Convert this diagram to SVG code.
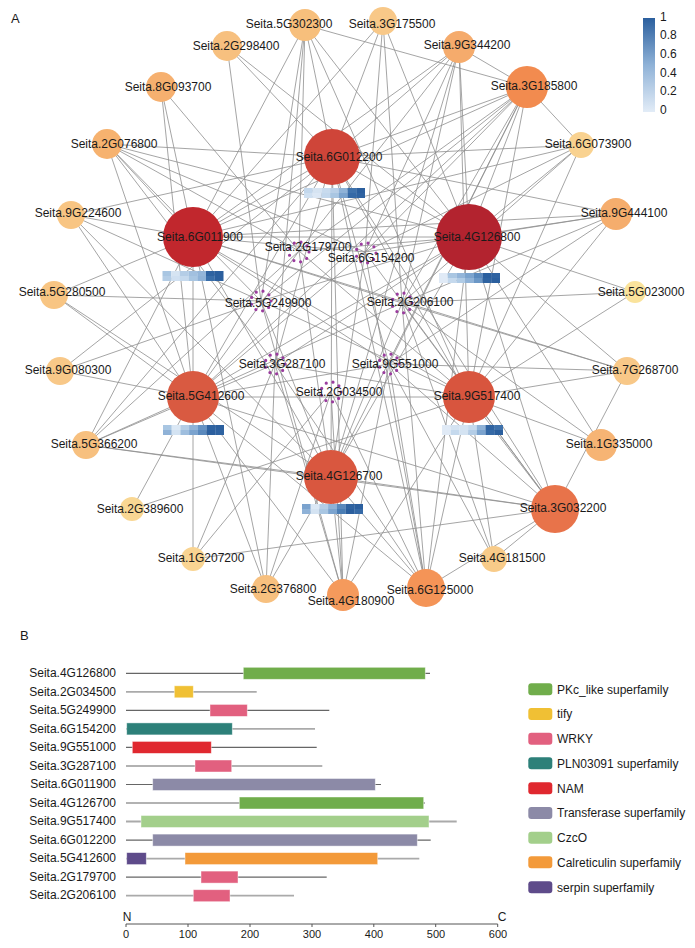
<svg xmlns="http://www.w3.org/2000/svg" width="695" height="948" viewBox="0 0 695 948">
<defs>
<linearGradient id="cbar" x1="0" y1="0" x2="0" y2="1">
<stop offset="0" stop-color="#2b5f9e"/>
<stop offset="0.5" stop-color="#8fb2d7"/>
<stop offset="1" stop-color="#e2ecf7"/>
</linearGradient>
<style>
text{font-family:"Liberation Sans",Arial,sans-serif;fill:#1a1a1a}
.lb{font-size:12px;text-anchor:middle}
.ed line{stroke:#8e8e8e;stroke-width:0.8}
.ring{fill:none;stroke:#9a3c9e;stroke-width:3.2;stroke-dasharray:0 6.98;stroke-linecap:round}
.cb{font-size:12px}
.rl{font-size:12px;text-anchor:end}
.ax{font-size:11px;text-anchor:middle}
.lg{font-size:12px}
.dk{stroke:#666;stroke-width:1.2}
.lt{stroke:#aaa;stroke-width:1.8}
.bar{stroke:#ffffff;stroke-opacity:0.55;stroke-width:0.8}
</style>
</defs>
<rect width="695" height="948" fill="#fff"/>
<text x="11" y="23" style="font-size:13px">A</text>

<g id="edges" class="ed">
<line x1="305" y1="25" x2="193" y2="237"/><line x1="305" y1="25" x2="332" y2="157"/><line x1="305" y1="25" x2="469" y2="237"/><line x1="305" y1="25" x2="299" y2="251"/><line x1="305" y1="25" x2="261" y2="301"/><line x1="305" y1="25" x2="275" y2="364"/><line x1="305" y1="25" x2="469" y2="397"/><line x1="305" y1="25" x2="527" y2="87"/>
<line x1="383" y1="21" x2="332" y2="157"/><line x1="383" y1="21" x2="193" y2="237"/><line x1="383" y1="21" x2="365" y2="252"/><line x1="383" y1="21" x2="469" y2="237"/><line x1="383" y1="21" x2="402" y2="303"/>
<line x1="227" y1="46" x2="332" y2="157"/><line x1="227" y1="46" x2="261" y2="301"/><line x1="227" y1="46" x2="469" y2="237"/>
<line x1="459" y1="47" x2="332" y2="157"/><line x1="459" y1="47" x2="193" y2="237"/><line x1="459" y1="47" x2="469" y2="237"/><line x1="459" y1="47" x2="299" y2="251"/><line x1="459" y1="47" x2="365" y2="252"/><line x1="459" y1="47" x2="402" y2="303"/><line x1="459" y1="47" x2="469" y2="397"/><line x1="459" y1="47" x2="331" y2="477"/><line x1="459" y1="47" x2="527" y2="87"/>
<line x1="161" y1="87" x2="193" y2="237"/><line x1="161" y1="87" x2="299" y2="251"/><line x1="161" y1="87" x2="193" y2="397"/>
<line x1="527" y1="87" x2="332" y2="157"/><line x1="527" y1="87" x2="193" y2="237"/><line x1="527" y1="87" x2="469" y2="237"/><line x1="527" y1="87" x2="193" y2="397"/><line x1="527" y1="87" x2="469" y2="397"/><line x1="527" y1="87" x2="331" y2="477"/><line x1="527" y1="87" x2="299" y2="251"/><line x1="527" y1="87" x2="365" y2="252"/><line x1="527" y1="87" x2="261" y2="301"/><line x1="527" y1="87" x2="402" y2="303"/><line x1="527" y1="87" x2="389" y2="364"/><line x1="527" y1="87" x2="581" y2="145"/>
<line x1="107" y1="144" x2="332" y2="157"/><line x1="107" y1="144" x2="193" y2="237"/><line x1="107" y1="144" x2="469" y2="237"/><line x1="107" y1="144" x2="299" y2="251"/><line x1="107" y1="144" x2="365" y2="252"/><line x1="107" y1="144" x2="261" y2="301"/><line x1="107" y1="144" x2="275" y2="364"/><line x1="107" y1="144" x2="193" y2="397"/>
<line x1="581" y1="145" x2="332" y2="157"/><line x1="581" y1="145" x2="193" y2="237"/><line x1="581" y1="145" x2="469" y2="237"/><line x1="581" y1="145" x2="365" y2="252"/><line x1="581" y1="145" x2="402" y2="303"/><line x1="581" y1="145" x2="469" y2="397"/>
<line x1="71" y1="215" x2="332" y2="157"/><line x1="71" y1="215" x2="193" y2="237"/><line x1="71" y1="215" x2="193" y2="397"/><line x1="71" y1="215" x2="261" y2="301"/><line x1="71" y1="215" x2="331" y2="477"/>
<line x1="616" y1="214" x2="332" y2="157"/><line x1="616" y1="214" x2="193" y2="237"/><line x1="616" y1="214" x2="469" y2="237"/><line x1="616" y1="214" x2="365" y2="252"/><line x1="616" y1="214" x2="402" y2="303"/><line x1="616" y1="214" x2="469" y2="397"/><line x1="616" y1="214" x2="389" y2="364"/>
<line x1="54" y1="295" x2="193" y2="237"/><line x1="54" y1="295" x2="193" y2="397"/><line x1="54" y1="295" x2="331" y2="477"/><line x1="54" y1="295" x2="261" y2="301"/>
<line x1="635" y1="292" x2="469" y2="237"/><line x1="635" y1="292" x2="402" y2="303"/><line x1="635" y1="292" x2="469" y2="397"/>
<line x1="60" y1="371" x2="332" y2="157"/><line x1="60" y1="371" x2="193" y2="397"/><line x1="60" y1="371" x2="261" y2="301"/>
<line x1="627" y1="371" x2="193" y2="237"/><line x1="627" y1="371" x2="469" y2="237"/><line x1="627" y1="371" x2="469" y2="397"/><line x1="627" y1="371" x2="402" y2="303"/><line x1="627" y1="371" x2="389" y2="364"/>
<line x1="86" y1="445" x2="332" y2="157"/><line x1="86" y1="445" x2="193" y2="237"/><line x1="86" y1="445" x2="193" y2="397"/><line x1="86" y1="445" x2="331" y2="477"/><line x1="86" y1="445" x2="275" y2="364"/><line x1="86" y1="445" x2="299" y2="251"/><line x1="86" y1="445" x2="555" y2="509"/>
<line x1="601" y1="445" x2="469" y2="237"/><line x1="601" y1="445" x2="469" y2="397"/><line x1="601" y1="445" x2="402" y2="303"/>
<line x1="132" y1="509" x2="193" y2="397"/><line x1="132" y1="509" x2="469" y2="397"/>
<line x1="555" y1="509" x2="332" y2="157"/><line x1="555" y1="509" x2="469" y2="237"/><line x1="555" y1="509" x2="193" y2="397"/><line x1="555" y1="509" x2="469" y2="397"/><line x1="555" y1="509" x2="331" y2="477"/><line x1="555" y1="509" x2="365" y2="252"/><line x1="555" y1="509" x2="402" y2="303"/><line x1="555" y1="509" x2="389" y2="364"/><line x1="555" y1="509" x2="627" y2="371"/><line x1="555" y1="509" x2="494" y2="559"/><line x1="555" y1="509" x2="426" y2="588"/>
<line x1="193" y1="559" x2="193" y2="237"/><line x1="193" y1="559" x2="275" y2="364"/><line x1="193" y1="559" x2="331" y2="392"/><line x1="193" y1="559" x2="555" y2="509"/>
<line x1="494" y1="559" x2="469" y2="397"/><line x1="494" y1="559" x2="402" y2="303"/><line x1="494" y1="559" x2="389" y2="364"/>
<line x1="266" y1="589" x2="193" y2="237"/><line x1="266" y1="589" x2="193" y2="397"/><line x1="266" y1="589" x2="331" y2="477"/><line x1="266" y1="589" x2="275" y2="364"/><line x1="266" y1="589" x2="331" y2="392"/>
<line x1="426" y1="588" x2="332" y2="157"/><line x1="426" y1="588" x2="469" y2="237"/><line x1="426" y1="588" x2="193" y2="397"/><line x1="426" y1="588" x2="469" y2="397"/><line x1="426" y1="588" x2="331" y2="477"/><line x1="426" y1="588" x2="365" y2="252"/><line x1="426" y1="588" x2="402" y2="303"/><line x1="426" y1="588" x2="275" y2="364"/><line x1="426" y1="588" x2="389" y2="364"/><line x1="426" y1="588" x2="331" y2="392"/>
<line x1="343" y1="595" x2="332" y2="157"/><line x1="343" y1="595" x2="193" y2="397"/><line x1="343" y1="595" x2="469" y2="397"/><line x1="343" y1="595" x2="331" y2="477"/><line x1="343" y1="595" x2="261" y2="301"/><line x1="343" y1="595" x2="275" y2="364"/><line x1="343" y1="595" x2="389" y2="364"/><line x1="343" y1="595" x2="331" y2="392"/>
<line x1="193" y1="237" x2="469" y2="237"/><line x1="332" y1="157" x2="331" y2="477"/><line x1="193" y1="397" x2="469" y2="397"/><line x1="193" y1="237" x2="469" y2="397"/><line x1="469" y1="237" x2="193" y2="397"/><line x1="332" y1="157" x2="193" y2="397"/><line x1="332" y1="157" x2="469" y2="397"/><line x1="193" y1="237" x2="331" y2="477"/><line x1="469" y1="237" x2="331" y2="477"/><line x1="332" y1="157" x2="193" y2="237"/><line x1="332" y1="157" x2="469" y2="237"/>
<line x1="332" y1="157" x2="275" y2="364"/><line x1="332" y1="157" x2="389" y2="364"/><line x1="193" y1="237" x2="365" y2="252"/><line x1="193" y1="237" x2="402" y2="303"/><line x1="193" y1="237" x2="389" y2="364"/><line x1="469" y1="237" x2="299" y2="251"/><line x1="469" y1="237" x2="261" y2="301"/><line x1="469" y1="237" x2="275" y2="364"/><line x1="193" y1="397" x2="299" y2="251"/><line x1="193" y1="397" x2="365" y2="252"/><line x1="193" y1="397" x2="402" y2="303"/><line x1="193" y1="397" x2="389" y2="364"/><line x1="469" y1="397" x2="299" y2="251"/><line x1="469" y1="397" x2="261" y2="301"/><line x1="469" y1="397" x2="275" y2="364"/><line x1="331" y1="477" x2="299" y2="251"/><line x1="331" y1="477" x2="365" y2="252"/><line x1="331" y1="477" x2="261" y2="301"/><line x1="331" y1="477" x2="402" y2="303"/>
</g>

<g id="n-5G302300"><circle cx="305" cy="25" r="16" fill="#f7bf7c"/><text class="lb" x="289" y="28">Seita.5G302300</text></g>
<g id="n-3G175500"><circle cx="383" cy="21" r="14" fill="#f8c888"/><text class="lb" x="392" y="28">Seita.3G175500</text></g>
<g id="n-2G298400"><circle cx="227" cy="46" r="15" fill="#f7c07f"/><text class="lb" x="236" y="50">Seita.2G298400</text></g>
<g id="n-9G344200"><circle cx="459" cy="47" r="16" fill="#f5ab6c"/><text class="lb" x="467" y="49">Seita.9G344200</text></g>
<g id="n-8G093700"><circle cx="161" cy="87" r="15" fill="#f6b06f"/><text class="lb" x="168" y="91">Seita.8G093700</text></g>
<g id="n-3G185800"><circle cx="527" cy="87" r="21" fill="#f28b4f"/><text class="lb" x="534" y="90">Seita.3G185800</text></g>
<g id="n-2G076800"><circle cx="107" cy="144" r="15" fill="#f6b26f"/><text class="lb" x="114" y="148">Seita.2G076800</text></g>
<g id="n-6G073900"><circle cx="581" cy="145" r="13" fill="#f9d290"/><text class="lb" x="588" y="148">Seita.6G073900</text></g>
<g id="n-9G224600"><circle cx="71" cy="215" r="14" fill="#f8c583"/><text class="lb" x="78" y="217">Seita.9G224600</text></g>
<g id="n-9G444100"><circle cx="616" cy="214" r="16" fill="#f5ad6d"/><text class="lb" x="624" y="217">Seita.9G444100</text></g>
<g id="n-5G280500"><circle cx="54" cy="295" r="14" fill="#f8c583"/><text class="lb" x="62" y="296">Seita.5G280500</text></g>
<g id="n-5G023000"><circle cx="635" cy="292" r="11" fill="#fae39c"/><text class="lb" x="641" y="296">Seita.5G023000</text></g>
<g id="n-9G080300"><circle cx="60" cy="371" r="14" fill="#f8c888"/><text class="lb" x="68" y="374">Seita.9G080300</text></g>
<g id="n-7G268700"><circle cx="627" cy="371" r="14" fill="#f8c888"/><text class="lb" x="635" y="374">Seita.7G268700</text></g>
<g id="n-5G366200"><circle cx="86" cy="445" r="14" fill="#f7c07f"/><text class="lb" x="94" y="448">Seita.5G366200</text></g>
<g id="n-1G335000"><circle cx="601" cy="445" r="16" fill="#f6b474"/><text class="lb" x="609" y="448">Seita.1G335000</text></g>
<g id="n-2G389600"><circle cx="132" cy="509" r="12" fill="#f9d793"/><text class="lb" x="140" y="513">Seita.2G389600</text></g>
<g id="n-3G032200"><circle cx="555" cy="509" r="24" fill="#e8734a"/><text class="lb" x="563" y="512">Seita.3G032200</text></g>
<g id="n-1G207200"><circle cx="193" cy="559" r="12" fill="#f9d492"/><text class="lb" x="201" y="562">Seita.1G207200</text></g>
<g id="n-4G181500"><circle cx="494" cy="559" r="13" fill="#f8cb89"/><text class="lb" x="502" y="562">Seita.4G181500</text></g>
<g id="n-2G376800"><circle cx="266" cy="589" r="14" fill="#f7c07f"/><text class="lb" x="273" y="593">Seita.2G376800</text></g>
<g id="n-6G125000"><circle cx="426" cy="588" r="19" fill="#f49457"/><text class="lb" x="430" y="594">Seita.6G125000</text></g>
<g id="n-4G180900"><circle cx="343" cy="595" r="16" fill="#f59a5c"/><text class="lb" x="351" y="605">Seita.4G180900</text></g>

<g id="n-6G012200"><circle cx="332" cy="157" r="28" fill="#cf4539"/>
<g transform="translate(304,188)"><rect x="0" y="0" width="8.8" height="5" fill="#c3d8ed"/><rect x="8.7" y="0" width="8.8" height="5" fill="#d6e4f2"/><rect x="17.4" y="0" width="8.8" height="5" fill="#c8dbee"/><rect x="26.1" y="0" width="8.8" height="5" fill="#b8cfe7"/><rect x="34.8" y="0" width="8.8" height="5" fill="#8fb2d7"/><rect x="43.5" y="0" width="8.8" height="5" fill="#3e71ab"/><rect x="52.2" y="0" width="8.8" height="5" fill="#2b5f9e"/><rect x="0" y="5" width="8.8" height="5" fill="#cfe0f1"/><rect x="8.7" y="5" width="8.8" height="5" fill="#dce8f5"/><rect x="17.4" y="5" width="8.8" height="5" fill="#c3d8ed"/><rect x="26.1" y="5" width="8.8" height="5" fill="#a9c6e2"/><rect x="34.8" y="5" width="8.8" height="5" fill="#7ba3ce"/><rect x="43.5" y="5" width="8.8" height="5" fill="#3569a6"/><rect x="52.2" y="5" width="8.8" height="5" fill="#2f63a1"/></g>
<text class="lb" x="339" y="161">Seita.6G012200</text></g>

<g id="n-6G011900"><circle cx="193" cy="237" r="30" fill="#c1272d"/>
<g transform="translate(162.5,271)"><rect x="0" y="0" width="8.8" height="5" fill="#a9c6e2"/><rect x="8.7" y="0" width="8.8" height="5" fill="#d6e4f2"/><rect x="17.4" y="0" width="8.8" height="5" fill="#b4cde6"/><rect x="26.1" y="0" width="8.8" height="5" fill="#a2c0df"/><rect x="34.8" y="0" width="8.8" height="5" fill="#93b5d9"/><rect x="43.5" y="0" width="8.8" height="5" fill="#2f63a1"/><rect x="52.2" y="0" width="8.8" height="5" fill="#2b5f9e"/><rect x="0" y="5" width="8.8" height="5" fill="#b4cde6"/><rect x="8.7" y="5" width="8.8" height="5" fill="#d0e0f1"/><rect x="17.4" y="5" width="8.8" height="5" fill="#c5d9ed"/><rect x="26.1" y="5" width="8.8" height="5" fill="#a9c6e2"/><rect x="34.8" y="5" width="8.8" height="5" fill="#8fb2d7"/><rect x="43.5" y="5" width="8.8" height="5" fill="#3a6ea9"/><rect x="52.2" y="5" width="8.8" height="5" fill="#2b5f9e"/></g>
<text class="lb" x="200" y="241">Seita.6G011900</text></g>

<g id="n-4G126800"><circle cx="469" cy="237" r="33" fill="#b3232f"/>
<g transform="translate(439,273)"><rect x="0" y="0" width="8.8" height="5" fill="#e0eaf6"/><rect x="8.7" y="0" width="8.8" height="5" fill="#a9c6e2"/><rect x="17.4" y="0" width="8.8" height="5" fill="#93b5d9"/><rect x="26.1" y="0" width="8.8" height="5" fill="#7ba3ce"/><rect x="34.8" y="0" width="8.8" height="5" fill="#5a89bd"/><rect x="43.5" y="0" width="8.8" height="5" fill="#2b5f9e"/><rect x="52.2" y="0" width="8.8" height="5" fill="#2f63a1"/><rect x="0" y="5" width="8.8" height="5" fill="#e0eaf6"/><rect x="8.7" y="5" width="8.8" height="5" fill="#c5d9ed"/><rect x="17.4" y="5" width="8.8" height="5" fill="#b0cbe5"/><rect x="26.1" y="5" width="8.8" height="5" fill="#8fb2d7"/><rect x="34.8" y="5" width="8.8" height="5" fill="#6b97c6"/><rect x="43.5" y="5" width="8.8" height="5" fill="#2f63a1"/><rect x="52.2" y="5" width="8.8" height="5" fill="#2b5f9e"/></g>
<text class="lb" x="477" y="241">Seita.4G126800</text></g>

<g id="n-5G412600"><circle cx="193" cy="397" r="26" fill="#d95a41"/>
<g transform="translate(163,425)"><rect x="0" y="0" width="8.8" height="5" fill="#a9c6e2"/><rect x="8.7" y="0" width="8.8" height="5" fill="#dbe8f5"/><rect x="17.4" y="0" width="8.8" height="5" fill="#b4cde6"/><rect x="26.1" y="0" width="8.8" height="5" fill="#8fb2d7"/><rect x="34.8" y="0" width="8.8" height="5" fill="#6693c4"/><rect x="43.5" y="0" width="8.8" height="5" fill="#2f63a1"/><rect x="52.2" y="0" width="8.8" height="5" fill="#2b5f9e"/><rect x="0" y="5" width="8.8" height="5" fill="#8fb2d7"/><rect x="8.7" y="5" width="8.8" height="5" fill="#d4e3f2"/><rect x="17.4" y="5" width="8.8" height="5" fill="#9fbede"/><rect x="26.1" y="5" width="8.8" height="5" fill="#7ba3ce"/><rect x="34.8" y="5" width="8.8" height="5" fill="#5a89bd"/><rect x="43.5" y="5" width="8.8" height="5" fill="#2b5f9e"/><rect x="52.2" y="5" width="8.8" height="5" fill="#2f63a1"/></g>
<text class="lb" x="201" y="400">Seita.5G412600</text></g>

<g id="n-9G517400"><circle cx="469" cy="397" r="26" fill="#d8553e"/>
<g transform="translate(442,425)"><rect x="0" y="0" width="8.8" height="5" fill="#e0eaf6"/><rect x="8.7" y="0" width="8.8" height="5" fill="#d4e3f2"/><rect x="17.4" y="0" width="8.8" height="5" fill="#d4e3f2"/><rect x="26.1" y="0" width="8.8" height="5" fill="#c5d9ed"/><rect x="34.8" y="0" width="8.8" height="5" fill="#8fb2d7"/><rect x="43.5" y="0" width="8.8" height="5" fill="#2f63a1"/><rect x="52.2" y="0" width="8.8" height="5" fill="#3e71ab"/><rect x="0" y="5" width="8.8" height="5" fill="#e0eaf6"/><rect x="8.7" y="5" width="8.8" height="5" fill="#c5d9ed"/><rect x="17.4" y="5" width="8.8" height="5" fill="#d4e3f2"/><rect x="26.1" y="5" width="8.8" height="5" fill="#b4cde6"/><rect x="34.8" y="5" width="8.8" height="5" fill="#7ba3ce"/><rect x="43.5" y="5" width="8.8" height="5" fill="#3569a6"/><rect x="52.2" y="5" width="8.8" height="5" fill="#2b5f9e"/></g>
<text class="lb" x="477" y="400">Seita.9G517400</text></g>

<g id="n-4G126700"><circle cx="331" cy="477" r="27" fill="#d9573f"/>
<g transform="translate(302,504)"><rect x="0" y="0" width="8.8" height="5" fill="#7ba3ce"/><rect x="8.7" y="0" width="8.8" height="5" fill="#dbe8f5"/><rect x="17.4" y="0" width="8.8" height="5" fill="#b4cde6"/><rect x="26.1" y="0" width="8.8" height="5" fill="#8fb2d7"/><rect x="34.8" y="0" width="8.8" height="5" fill="#5a89bd"/><rect x="43.5" y="0" width="8.8" height="5" fill="#2f63a1"/><rect x="52.2" y="0" width="8.8" height="5" fill="#2b5f9e"/><rect x="0" y="5" width="8.8" height="5" fill="#8fb2d7"/><rect x="8.7" y="5" width="8.8" height="5" fill="#d4e3f2"/><rect x="17.4" y="5" width="8.8" height="5" fill="#a9c6e2"/><rect x="26.1" y="5" width="8.8" height="5" fill="#7ba3ce"/><rect x="34.8" y="5" width="8.8" height="5" fill="#4a7db4"/><rect x="43.5" y="5" width="8.8" height="5" fill="#2b5f9e"/><rect x="52.2" y="5" width="8.8" height="5" fill="#3569a6"/></g>
<text class="lb" x="339" y="480">Seita.4G126700</text></g>

<g id="n-2G179700"><circle class="ring" cx="299" cy="252" r="10"/><text class="lb" x="308" y="251">Seita.2G179700</text></g>
<g id="n-6G154200"><circle class="ring" cx="366" cy="253" r="10"/><text class="lb" x="371" y="262">Seita.6G154200</text></g>
<g id="n-5G249900"><circle class="ring" cx="261" cy="301" r="10"/><text class="lb" x="268" y="307">Seita.5G249900</text></g>
<g id="n-2G206100"><circle class="ring" cx="402" cy="303" r="10"/><text class="lb" x="410" y="306">Seita.2G206100</text></g>
<g id="n-3G287100"><circle class="ring" cx="275" cy="364" r="10"/><text class="lb" x="282" y="368">Seita.3G287100</text></g>
<g id="n-9G551000"><circle class="ring" cx="389" cy="364" r="10"/><text class="lb" x="395" y="368">Seita.9G551000</text></g>
<g id="n-2G034500"><circle class="ring" cx="331" cy="392" r="10"/><text class="lb" x="339" y="396">Seita.2G034500</text></g>

<g id="colorbar">
<rect x="643" y="18" width="12" height="94" fill="url(#cbar)"/>
<text class="cb" x="660" y="21">1</text>
<text class="cb" x="660" y="39">0.8</text>
<text class="cb" x="660" y="58">0.6</text>
<text class="cb" x="660" y="77">0.4</text>
<text class="cb" x="660" y="95">0.2</text>
<text class="cb" x="660" y="114">0</text>
</g>

<text x="20" y="640" style="font-size:13px">B</text>
<g id="domains">
<text class="rl" x="116" y="677">Seita.4G126800</text><line class="dk" x1="126" y1="673.3" x2="430" y2="673.3"/><rect class="bar" x="243.3" y="667.3" width="182" height="12" fill="#70ad4b"/>
<text class="rl" x="116" y="696">Seita.2G034500</text><line class="lt" x1="126" y1="691.8" x2="256.7" y2="691.8"/><rect class="bar" x="174.3" y="685.8" width="19" height="12" fill="#f0c034"/>
<text class="rl" x="116" y="714">Seita.5G249900</text><line class="dk" x1="126" y1="710.4" x2="329.3" y2="710.4"/><rect class="bar" x="210" y="704.4" width="37.3" height="12" fill="#e2607f"/>
<text class="rl" x="116" y="733">Seita.6G154200</text><line class="lt" x1="126" y1="728.9" x2="315" y2="728.9"/><rect class="bar" x="126.7" y="722.9" width="105.6" height="12" fill="#2d8079"/>
<text class="rl" x="116" y="751">Seita.9G551000</text><line class="dk" x1="126" y1="747.4" x2="316.7" y2="747.4"/><rect class="bar" x="132.3" y="741.4" width="79" height="12" fill="#e0282f"/>
<text class="rl" x="116" y="770">Seita.3G287100</text><line class="dk" x1="126" y1="766" x2="322.3" y2="766"/><rect class="bar" x="195" y="760" width="36.7" height="12" fill="#e2607f"/>
<text class="rl" x="116" y="788">Seita.6G011900</text><line class="dk" x1="126" y1="784.5" x2="381" y2="784.5"/><rect class="bar" x="152.7" y="778.5" width="222.6" height="12" fill="#8c8aa7"/>
<text class="rl" x="116" y="807">Seita.4G126700</text><line class="dk" x1="126" y1="803" x2="425" y2="803"/><rect class="bar" x="239.3" y="797" width="184.4" height="12" fill="#70ad4b"/>
<text class="rl" x="116" y="825">Seita.9G517400</text><line class="lt" x1="126" y1="821.5" x2="456.7" y2="821.5"/><rect class="bar" x="141" y="815.5" width="288" height="12" fill="#a3cf8b"/>
<text class="rl" x="116" y="844">Seita.6G012200</text><line class="dk" x1="126" y1="840.1" x2="430.7" y2="840.1"/><rect class="bar" x="152.7" y="834.1" width="264.6" height="12" fill="#8c8aa7"/>
<text class="rl" x="116" y="862">Seita.5G412600</text><line class="lt" x1="126" y1="858.6" x2="419.3" y2="858.6"/><rect class="bar" x="126.7" y="852.6" width="19.6" height="12" fill="#5e4b8a"/><rect class="bar" x="185" y="852.6" width="192.7" height="12" fill="#f39a3a"/>
<text class="rl" x="116" y="881">Seita.2G179700</text><line class="dk" x1="126" y1="877.1" x2="326.7" y2="877.1"/><rect class="bar" x="201" y="871.1" width="37" height="12" fill="#e2607f"/>
<text class="rl" x="116" y="899">Seita.2G206100</text><line class="lt" x1="126" y1="895.7" x2="294" y2="895.7"/><rect class="bar" x="193.3" y="889.7" width="36.7" height="12" fill="#e2607f"/>
</g>

<g id="axis">
<line x1="126" y1="924" x2="497.7" y2="924" stroke="#555" stroke-width="1"/>
<g stroke="#555" stroke-width="1"><line x1="126" y1="924" x2="126" y2="927"/><line x1="188" y1="924" x2="188" y2="927"/><line x1="250" y1="924" x2="250" y2="927"/><line x1="312" y1="924" x2="312" y2="927"/><line x1="373.8" y1="924" x2="373.8" y2="927"/><line x1="435.7" y1="924" x2="435.7" y2="927"/><line x1="497.7" y1="924" x2="497.7" y2="927"/></g>
<text class="ax" x="126" y="938">0</text><text class="ax" x="188" y="938">100</text><text class="ax" x="250" y="938">200</text><text class="ax" x="312" y="938">300</text><text class="ax" x="374" y="938">400</text><text class="ax" x="436" y="938">500</text><text class="ax" x="498" y="938">600</text>
<text class="ax" x="127" y="921" style="font-size:12px">N</text><text class="ax" x="502" y="921" style="font-size:12px">C</text>
</g>

<g id="legend">
<rect x="528.3" y="683.3" width="24" height="12" rx="3" fill="#70ad4b"/><text class="lg" x="557" y="693.5">PKc_like superfamily</text>
<rect x="528.3" y="708" width="24" height="12" rx="3" fill="#f0c034"/><text class="lg" x="557" y="718">tify</text>
<rect x="528.3" y="732.7" width="24" height="12" rx="3" fill="#e2607f"/><text class="lg" x="557" y="743">WRKY</text>
<rect x="528.3" y="757.3" width="24" height="12" rx="3" fill="#2d8079"/><text class="lg" x="557" y="767.5">PLN03091 superfamily</text>
<rect x="528.3" y="782.3" width="24" height="12" rx="3" fill="#e0282f"/><text class="lg" x="557" y="792.5">NAM</text>
<rect x="528.3" y="807" width="24" height="12" rx="3" fill="#8c8aa7"/><text class="lg" x="557" y="817">Transferase superfamily</text>
<rect x="528.3" y="831.7" width="24" height="12" rx="3" fill="#a3cf8b"/><text class="lg" x="557" y="842">CzcO</text>
<rect x="528.3" y="856.3" width="24" height="12" rx="3" fill="#f39a3a"/><text class="lg" x="557" y="866.5">Calreticulin superfamily</text>
<rect x="528.3" y="881.3" width="24" height="12" rx="3" fill="#5e4b8a"/><text class="lg" x="557" y="891.5">serpin superfamily</text>
</g>
</svg>
